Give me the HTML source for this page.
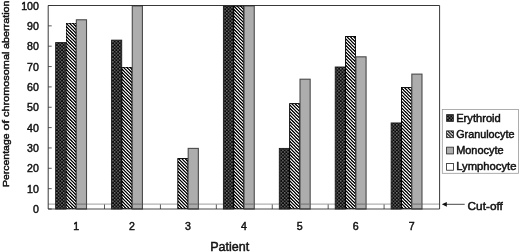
<!DOCTYPE html>
<html lang="en"><head><meta charset="utf-8"><title>Chromosomal aberration chart</title>
<style>
html,body{margin:0;padding:0;background:#fff;}
svg{display:block;filter:blur(0.35px);font-family:"Liberation Sans",sans-serif;fill:#111;}
text{stroke:#111;stroke-width:0.45px;}
</style></head><body>
<svg width="520" height="252" viewBox="0 0 520 252">
<defs>
<pattern id="pe" width="3.4" height="3.4" patternUnits="userSpaceOnUse"><rect width="3.4" height="3.4" fill="#0a0a0a"/><rect x="0.2" y="0.2" width="1.1" height="1.1" fill="#bdbdbd"/><rect x="1.9" y="1.9" width="1.1" height="1.1" fill="#bdbdbd"/></pattern>
<pattern id="pg" width="3.3" height="3.3" patternUnits="userSpaceOnUse"><rect width="3.3" height="3.3" fill="#fff"/><path d="M-1,-1 L4.3,4.3 M-1,2.3 L1,4.3 M2.3,-1 L4.3,1" stroke="#000" stroke-width="1.25"/></pattern>
<filter id="ct" x="0" y="0" width="1" height="1" color-interpolation-filters="sRGB"><feComponentTransfer><feFuncR type="linear" slope="1.8" intercept="-0.4"/><feFuncG type="linear" slope="1.8" intercept="-0.4"/><feFuncB type="linear" slope="1.8" intercept="-0.4"/></feComponentTransfer></filter>
</defs>
<rect width="520" height="252" fill="#fff"/>
<line x1="48.2" y1="204.1" x2="439.6" y2="204.1" stroke="#8c8c8c" stroke-width="0.85"/>
<rect x="55.66" y="42.58" width="10.15" height="166.42" fill="url(#pe)" stroke="#1a1a1a" stroke-width="0.9"/>
<rect x="66.01" y="23.04" width="10.15" height="185.96" fill="url(#pg)" stroke="#1a1a1a" stroke-width="0.9" filter="url(#ct)"/>
<rect x="76.36" y="19.79" width="10.15" height="189.21" fill="#adadad" stroke="#4a4a4a" stroke-width="1.1"/>
<line x1="76.66" y1="204.1" x2="86.01" y2="204.1" stroke="#707070" stroke-width="1"/>
<rect x="111.57" y="40.14" width="10.15" height="168.86" fill="url(#pe)" stroke="#1a1a1a" stroke-width="0.9"/>
<rect x="121.92" y="67.00" width="10.15" height="142.00" fill="url(#pg)" stroke="#1a1a1a" stroke-width="0.9" filter="url(#ct)"/>
<rect x="132.27" y="5.95" width="10.15" height="203.05" fill="#adadad" stroke="#4a4a4a" stroke-width="1.1"/>
<line x1="132.57" y1="204.1" x2="141.92" y2="204.1" stroke="#707070" stroke-width="1"/>
<rect x="177.84" y="158.57" width="10.15" height="50.42" fill="url(#pg)" stroke="#1a1a1a" stroke-width="0.9" filter="url(#ct)"/>
<rect x="188.19" y="148.40" width="10.15" height="60.60" fill="#adadad" stroke="#4a4a4a" stroke-width="1.1"/>
<line x1="188.49" y1="204.1" x2="197.84" y2="204.1" stroke="#707070" stroke-width="1"/>
<rect x="223.40" y="5.95" width="10.15" height="203.05" fill="url(#pe)" stroke="#1a1a1a" stroke-width="0.9"/>
<rect x="233.75" y="5.95" width="10.15" height="203.05" fill="url(#pg)" stroke="#1a1a1a" stroke-width="0.9" filter="url(#ct)"/>
<rect x="244.10" y="5.95" width="10.15" height="203.05" fill="#adadad" stroke="#4a4a4a" stroke-width="1.1"/>
<line x1="244.40" y1="204.1" x2="253.75" y2="204.1" stroke="#707070" stroke-width="1"/>
<rect x="279.31" y="148.40" width="10.15" height="60.60" fill="url(#pe)" stroke="#1a1a1a" stroke-width="0.9"/>
<rect x="289.66" y="103.63" width="10.15" height="105.37" fill="url(#pg)" stroke="#1a1a1a" stroke-width="0.9" filter="url(#ct)"/>
<rect x="300.01" y="79.21" width="10.15" height="129.79" fill="#adadad" stroke="#4a4a4a" stroke-width="1.1"/>
<line x1="300.31" y1="204.1" x2="309.66" y2="204.1" stroke="#707070" stroke-width="1"/>
<rect x="335.23" y="67.00" width="10.15" height="142.00" fill="url(#pe)" stroke="#1a1a1a" stroke-width="0.9"/>
<rect x="345.58" y="36.47" width="10.15" height="172.53" fill="url(#pg)" stroke="#1a1a1a" stroke-width="0.9" filter="url(#ct)"/>
<rect x="355.93" y="56.83" width="10.15" height="152.18" fill="#adadad" stroke="#4a4a4a" stroke-width="1.1"/>
<line x1="356.23" y1="204.1" x2="365.58" y2="204.1" stroke="#707070" stroke-width="1"/>
<rect x="391.14" y="122.96" width="10.15" height="86.04" fill="url(#pe)" stroke="#1a1a1a" stroke-width="0.9"/>
<rect x="401.49" y="87.35" width="10.15" height="121.65" fill="url(#pg)" stroke="#1a1a1a" stroke-width="0.9" filter="url(#ct)"/>
<rect x="411.84" y="74.12" width="10.15" height="134.88" fill="#adadad" stroke="#4a4a4a" stroke-width="1.1"/>
<line x1="412.14" y1="204.1" x2="421.49" y2="204.1" stroke="#707070" stroke-width="1"/>
<path d="M48.2,209.0 V5.5 H439.6 V209.0" fill="none" stroke="#222" stroke-width="0.9"/>
<line x1="48.2" y1="209.0" x2="439.6" y2="209.0" stroke="#2a2a2a" stroke-width="0.85"/>
<line x1="48.2" y1="209.00" x2="51.7" y2="209.00" stroke="#333" stroke-width="0.8"/>
<text x="38.9" y="213.00" font-size="10.6" text-anchor="end">0</text>
<line x1="48.2" y1="188.65" x2="51.7" y2="188.65" stroke="#333" stroke-width="0.8"/>
<text x="38.9" y="192.65" font-size="10.6" text-anchor="end">10</text>
<line x1="48.2" y1="168.30" x2="51.7" y2="168.30" stroke="#333" stroke-width="0.8"/>
<text x="38.9" y="172.30" font-size="10.6" text-anchor="end">20</text>
<line x1="48.2" y1="147.95" x2="51.7" y2="147.95" stroke="#333" stroke-width="0.8"/>
<text x="38.9" y="151.95" font-size="10.6" text-anchor="end">30</text>
<line x1="48.2" y1="127.60" x2="51.7" y2="127.60" stroke="#333" stroke-width="0.8"/>
<text x="38.9" y="131.60" font-size="10.6" text-anchor="end">40</text>
<line x1="48.2" y1="107.25" x2="51.7" y2="107.25" stroke="#333" stroke-width="0.8"/>
<text x="38.9" y="111.25" font-size="10.6" text-anchor="end">50</text>
<line x1="48.2" y1="86.90" x2="51.7" y2="86.90" stroke="#333" stroke-width="0.8"/>
<text x="38.9" y="90.90" font-size="10.6" text-anchor="end">60</text>
<line x1="48.2" y1="66.55" x2="51.7" y2="66.55" stroke="#333" stroke-width="0.8"/>
<text x="38.9" y="70.55" font-size="10.6" text-anchor="end">70</text>
<line x1="48.2" y1="46.20" x2="51.7" y2="46.20" stroke="#333" stroke-width="0.8"/>
<text x="38.9" y="50.20" font-size="10.6" text-anchor="end">80</text>
<line x1="48.2" y1="25.85" x2="51.7" y2="25.85" stroke="#333" stroke-width="0.8"/>
<text x="38.9" y="29.85" font-size="10.6" text-anchor="end">90</text>
<line x1="48.2" y1="5.50" x2="51.7" y2="5.50" stroke="#333" stroke-width="0.8"/>
<text x="38.9" y="9.50" font-size="10.6" text-anchor="end">100</text>
<line x1="104.51" y1="209.0" x2="104.51" y2="204.5" stroke="#222" stroke-width="0.75"/>
<line x1="160.43" y1="209.0" x2="160.43" y2="204.5" stroke="#222" stroke-width="0.75"/>
<line x1="216.34" y1="209.0" x2="216.34" y2="204.5" stroke="#222" stroke-width="0.75"/>
<line x1="272.26" y1="209.0" x2="272.26" y2="204.5" stroke="#222" stroke-width="0.75"/>
<line x1="328.17" y1="209.0" x2="328.17" y2="204.5" stroke="#222" stroke-width="0.75"/>
<line x1="384.09" y1="209.0" x2="384.09" y2="204.5" stroke="#222" stroke-width="0.75"/>
<text x="76.16" y="230" font-size="10.6" text-anchor="middle">1</text>
<text x="132.07" y="230" font-size="10.6" text-anchor="middle">2</text>
<text x="187.99" y="230" font-size="10.6" text-anchor="middle">3</text>
<text x="243.90" y="230" font-size="10.6" text-anchor="middle">4</text>
<text x="299.81" y="230" font-size="10.6" text-anchor="middle">5</text>
<text x="355.73" y="230" font-size="10.6" text-anchor="middle">6</text>
<text x="411.64" y="230" font-size="10.6" text-anchor="middle">7</text>
<text x="210.2" y="250.8" font-size="12" textLength="39" lengthAdjust="spacingAndGlyphs">Patient</text>
<text transform="translate(9.4,187.0) rotate(-90)" font-size="9.6" textLength="53.6" lengthAdjust="spacingAndGlyphs">Percentage</text>
<text transform="translate(9.4,130.5) rotate(-90)" font-size="9.6" textLength="10.4" lengthAdjust="spacingAndGlyphs">of</text>
<text transform="translate(9.4,117.0) rotate(-90)" font-size="9.6" textLength="65.4" lengthAdjust="spacingAndGlyphs">chromosomal</text>
<text transform="translate(9.4,49.0) rotate(-90)" font-size="9.6" textLength="48.6" lengthAdjust="spacingAndGlyphs">aberration</text>
<rect x="442.3" y="109.4" width="76.2" height="63.9" fill="#fff" stroke="#999" stroke-width="0.8"/>
<rect x="446.6" y="114.60" width="6.8" height="6.8" fill="url(#pe)" stroke="#222" stroke-width="0.8"/>
<text x="456.2" y="121.50" font-size="10" textLength="44.6" lengthAdjust="spacingAndGlyphs" stroke="#111" stroke-width="0.55">Erythroid</text>
<rect x="446.6" y="130.87" width="6.8" height="6.8" fill="url(#pg)" stroke="#222" stroke-width="0.8"/>
<text x="456.2" y="137.77" font-size="10" textLength="58.2" lengthAdjust="spacingAndGlyphs" stroke="#111" stroke-width="0.55">Granulocyte</text>
<rect x="446.6" y="147.14" width="6.8" height="6.8" fill="#adadad" stroke="#222" stroke-width="0.8"/>
<text x="456.2" y="154.04" font-size="10" textLength="47.4" lengthAdjust="spacingAndGlyphs" stroke="#111" stroke-width="0.55">Monocyte</text>
<rect x="446.6" y="163.41" width="6.8" height="6.8" fill="#fff" stroke="#222" stroke-width="0.8"/>
<text x="456.2" y="170.31" font-size="10" textLength="60.2" lengthAdjust="spacingAndGlyphs" stroke="#111" stroke-width="0.55">Lymphocyte</text>
<line x1="446" y1="204.3" x2="464.7" y2="204.3" stroke="#333" stroke-width="0.9"/>
<path d="M441.8,204.3 L446.8,201.9 L446.8,206.7 Z" fill="#111"/>
<text x="467.6" y="209.6" font-size="10.7" textLength="35.2" lengthAdjust="spacingAndGlyphs" stroke="#111" stroke-width="0.45">Cut-off</text>
</svg>
</body></html>
